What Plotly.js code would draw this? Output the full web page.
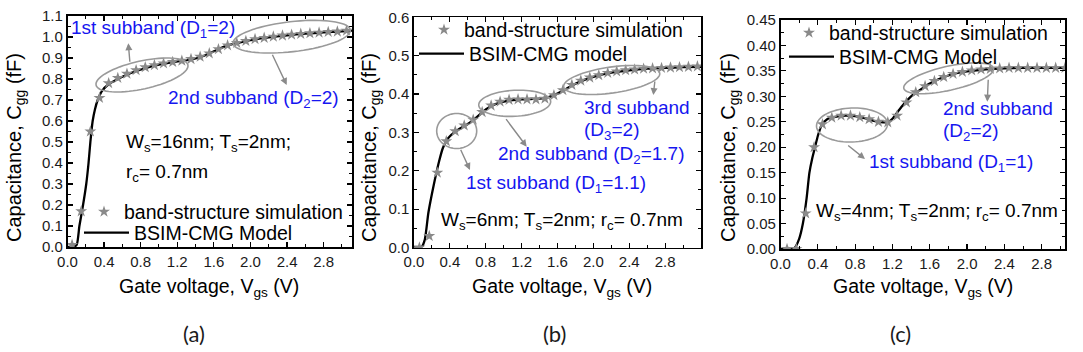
<!DOCTYPE html>
<html>
<head>
<meta charset="utf-8">
<script src="https://cdn.plot.ly/plotly-3.0.1.min.js"></script>
<style>html,body{margin:0;padding:0;background:#fff;}#chart{width:1083px;height:352px;}</style>
</head>
<body>
<div id="chart"></div>
<script>
// ---------- data ----------
const xTickVals = [0.0, 0.4, 0.8, 1.2, 1.6, 2.0, 2.4, 2.8];

// panel (a)  Ws=16nm
const modelA_V = [0, 0.06, 0.10, 0.13, 0.17, 0.205, 0.23, 0.25, 0.275, 0.30, 0.33, 0.38, 0.45, 0.55, 0.70, 0.85, 1.00, 1.15, 1.30, 1.40, 1.50, 1.60, 1.70, 1.80, 1.90, 2.00, 2.20, 2.40, 2.60, 2.80, 3.00, 3.11];
const modelA_C = [0, 0, 0.01, 0.10, 0.20, 0.30, 0.40, 0.50, 0.60, 0.655, 0.70, 0.745, 0.775, 0.800, 0.830, 0.852, 0.868, 0.880, 0.890, 0.898, 0.912, 0.932, 0.952, 0.966, 0.976, 0.985, 0.998, 1.008, 1.016, 1.022, 1.027, 1.030];
const simA_V = [0.05, 0.15, 0.25, 0.35, 0.45, 0.55, 0.65, 0.75, 0.85, 0.95, 1.05, 1.15, 1.25, 1.35, 1.45, 1.55, 1.65, 1.75, 1.85, 1.95, 2.05, 2.15, 2.25, 2.35, 2.45, 2.55, 2.65, 2.75, 2.85, 2.95, 3.05];
const simA_C = [0.01, 0.17, 0.55, 0.71, 0.78, 0.805, 0.825, 0.842, 0.856, 0.866, 0.874, 0.881, 0.887, 0.895, 0.906, 0.922, 0.942, 0.960, 0.972, 0.981, 0.990, 0.996, 1.002, 1.007, 1.011, 1.015, 1.018, 1.021, 1.024, 1.026, 1.030];

// panel (b)  Ws=6nm
const modelB_V = [0, 0.08, 0.12, 0.16, 0.20, 0.24, 0.28, 0.32, 0.36, 0.40, 0.45, 0.50, 0.60, 0.70, 0.80, 0.90, 1.00, 1.10, 1.20, 1.30, 1.40, 1.50, 1.60, 1.70, 1.80, 1.90, 2.00, 2.20, 2.40, 2.60, 2.80, 3.00, 3.20];
const modelB_C = [0, 0, 0.02, 0.09, 0.14, 0.185, 0.225, 0.258, 0.278, 0.290, 0.300, 0.308, 0.322, 0.340, 0.360, 0.373, 0.380, 0.384, 0.386, 0.387, 0.388, 0.392, 0.401, 0.414, 0.427, 0.437, 0.445, 0.456, 0.462, 0.466, 0.468, 0.470, 0.471];
const simB_V = [0.06, 0.17, 0.26, 0.36, 0.46, 0.56, 0.66, 0.76, 0.86, 0.96, 1.06, 1.16, 1.26, 1.36, 1.46, 1.56, 1.66, 1.76, 1.86, 1.96, 2.06, 2.16, 2.26, 2.36, 2.46, 2.56, 2.66, 2.76, 2.86, 2.96, 3.06, 3.16];
const simB_C = [0.0, 0.03, 0.195, 0.277, 0.303, 0.318, 0.333, 0.353, 0.370, 0.380, 0.385, 0.386, 0.386, 0.386, 0.388, 0.397, 0.410, 0.424, 0.435, 0.443, 0.449, 0.455, 0.459, 0.462, 0.464, 0.466, 0.467, 0.468, 0.469, 0.470, 0.471, 0.472];

// panel (c)  Ws=4nm
const modelC_V = [0, 0.10, 0.15, 0.20, 0.24, 0.28, 0.31, 0.34, 0.37, 0.40, 0.44, 0.50, 0.60, 0.70, 0.80, 0.90, 1.00, 1.10, 1.15, 1.20, 1.25, 1.30, 1.40, 1.50, 1.60, 1.70, 1.80, 1.90, 2.00, 2.20, 2.40, 2.60, 2.80, 3.05];
const modelC_C = [0, 0, 0.002, 0.02, 0.05, 0.10, 0.15, 0.178, 0.200, 0.222, 0.243, 0.255, 0.260, 0.262, 0.261, 0.257, 0.252, 0.249, 0.249, 0.256, 0.268, 0.280, 0.300, 0.313, 0.325, 0.334, 0.341, 0.346, 0.349, 0.353, 0.355, 0.356, 0.356, 0.356];
const simC_V = [0.07, 0.17, 0.27, 0.36, 0.45, 0.55, 0.65, 0.75, 0.85, 0.95, 1.05, 1.15, 1.25, 1.35, 1.45, 1.55, 1.65, 1.75, 1.85, 1.95, 2.05, 2.15, 2.25, 2.35, 2.45, 2.55, 2.65, 2.75, 2.85, 2.95, 3.05];
const simC_C = [0.0, 0.0, 0.07, 0.20, 0.245, 0.258, 0.262, 0.262, 0.259, 0.255, 0.250, 0.249, 0.262, 0.288, 0.308, 0.320, 0.330, 0.338, 0.344, 0.348, 0.351, 0.353, 0.354, 0.355, 0.356, 0.356, 0.356, 0.356, 0.356, 0.356, 0.356];

const simName = 'band-structure simulation';
const modelNames = ['BSIM-CMG Model', 'BSIM-CMG model', 'BSIM-CMG Model'];

// ---------- layout helpers ----------
const W = 1083, H = 352;
const X = p => p / W;
const Y = p => 1 - p / H;
const FONT = 'Liberation Sans, Arial, sans-serif';
const BLUE = '#1616f0';
const GREY = '#8a8a8a';

function xAxis(d0, d1, r1, anchor) {
  return {
    domain: [X(d0), X(d1)], range: [0, r1], anchor: anchor,
    tickvals: xTickVals, tickformat: '.1f',
    ticks: 'inside', ticklen: 5, tickwidth: 1.2, tickcolor: '#000',
    minor: {ticks: 'inside', dtick: 0.2, tick0: 0, ticklen: 3, tickwidth: 1, tickcolor: '#000'},
    mirror: 'allticks', showline: true, linecolor: '#000', linewidth: 1.6,
    showgrid: false, zeroline: false, fixedrange: true,
    tickfont: {family: FONT, size: 15, color: '#1a1a1a'}
  };
}
function yAxis(top, bot, r1, dt, mdt, fmt, anchor) {
  return {
    domain: [Y(bot), Y(top)], range: [0, r1], anchor: anchor,
    dtick: dt, tick0: 0, tickformat: fmt,
    ticks: 'inside', ticklen: 5, tickwidth: 1.2, tickcolor: '#000',
    minor: {ticks: 'inside', dtick: mdt, tick0: 0, ticklen: 3, tickwidth: 1, tickcolor: '#000'},
    mirror: 'allticks', showline: true, linecolor: '#000', linewidth: 1.6,
    showgrid: false, zeroline: false, fixedrange: true,
    tickfont: {family: FONT, size: 15, color: '#1a1a1a'}
  };
}

function simTrace(xs, ys, xa, ya, leg) {
  return {x: xs, y: ys, xaxis: xa, yaxis: ya, type: 'scatter', mode: 'markers', name: simName, legend: leg,
    marker: {symbol: 'star', size: 9, color: GREY, line: {width: 0}}};
}
function modelTrace(xs, ys, xa, ya, name, leg) {
  return {x: xs, y: ys, xaxis: xa, yaxis: ya, type: 'scatter', mode: 'lines', name: name, legend: leg,
    line: {color: '#000', width: 2.3, shape: 'spline', smoothing: 0.6}};
}

const traces = [
  modelTrace(modelA_V, modelA_C, 'x', 'y', modelNames[0], 'legend2'),
  simTrace(simA_V, simA_C, 'x', 'y', 'legend'),
  modelTrace(modelB_V, modelB_C, 'x2', 'y2', modelNames[1], 'legend4'),
  simTrace(simB_V, simB_C, 'x2', 'y2', 'legend3'),
  modelTrace(modelC_V, modelC_C, 'x3', 'y3', modelNames[2], 'legend6'),
  simTrace(simC_V, simC_C, 'x3', 'y3', 'legend5')
];

function leg(px, py, iw) {
  return {x: X(px), y: Y(py), xref: 'paper', yref: 'paper', xanchor: 'left', yanchor: 'middle',
    bgcolor: 'rgba(0,0,0,0)', borderwidth: 0, itemwidth: iw,
    font: {family: FONT, size: 19.5, color: '#000'}, tracegroupgap: 0};
}

// decorations: ellipses (pixel centre, semi-axes, tilt)
const ellipses = [
  [142, 75, 47, 14, -12.4], [291.7, 36.7, 59, 15, -6.5],
  [456.7, 131, 20, 17.5, 0], [514.7, 103.3, 36, 13, -3], [611.7, 80, 48.5, 13, -8],
  [852, 125, 35.5, 17, -2], [948.7, 78.3, 46, 12, -12.6]
];
function ellipsePath(e) {
  const [cx, cy, a, b, ang] = e; const t = ang * Math.PI / 180; let s = '';
  for (let i = 0; i <= 72; i++) {
    const u = i / 72 * 2 * Math.PI;
    const px = cx + a * Math.cos(u) * Math.cos(t) - b * Math.sin(u) * Math.sin(t);
    const py = cy + a * Math.cos(u) * Math.sin(t) + b * Math.sin(u) * Math.cos(t);
    s += (i === 0 ? 'M' : 'L') + X(px).toFixed(5) + ',' + Y(py).toFixed(5);
  }
  return s + 'Z';
}
const shapes = ellipses.map(e => ({type: 'path', xref: 'paper', yref: 'paper', path: ellipsePath(e),
  line: {color: '#9a9a9a', width: 1.6}, fillcolor: 'rgba(0,0,0,0)'}));

// arrows: tail -> head (pixels)
const arrows = [
  [130, 63.3, 128.3, 43.3], [271.7, 53.3, 286.7, 85],
  [460, 148.3, 470, 170], [505, 117.7, 526.7, 146.7], [655, 80, 653.3, 95],
  [846.7, 144.3, 865, 159], [988.3, 78.3, 987.3, 101.7]
];
const annotations = arrows.map(a => ({xref: 'paper', yref: 'paper', x: X(a[2]), y: Y(a[3]),
  ax: a[0] - a[2], ay: a[1] - a[3], axref: 'pixel', ayref: 'pixel', text: '', showarrow: true,
  arrowhead: 2, arrowsize: 1, arrowwidth: 1.4, arrowcolor: GREY, standoff: 0, startstandoff: 0}));

function txt(px, py, s, color, size, extra) {
  return Object.assign({xref: 'paper', yref: 'paper', x: X(px), y: Y(py), text: s, showarrow: false,
    xanchor: 'left', yanchor: 'middle', font: {family: FONT, size: size || 19, color: color || '#000'}}, extra || {});
}
annotations.push(
  txt(69, 29, '1st subband (D<sub>1</sub>=2)', BLUE),
  txt(166, 99, '2nd subband (D<sub>2</sub>=2)', BLUE),
  txt(124, 143, 'W<sub>s</sub>=16nm; T<sub>s</sub>=2nm;'),
  txt(124, 173, 'r<sub>c</sub>= 0.7nm'),
  txt(582, 107, '3rd subband', BLUE),
  txt(582, 131, '(D<sub>3</sub>=2)', BLUE),
  txt(496, 155, '2nd subband (D<sub>2</sub>=1.7)', BLUE),
  txt(464, 184, '1st subband (D<sub>1</sub>=1.1)', BLUE),
  txt(439, 221, 'W<sub>s</sub>=6nm; T<sub>s</sub>=2nm; r<sub>c</sub>= 0.7nm'),
  txt(941, 108, '2nd subband', BLUE),
  txt(941, 132, '(D<sub>2</sub>=2)', BLUE),
  txt(867, 163, '1st subband (D<sub>1</sub>=1)', BLUE),
  txt(814, 212, 'W<sub>s</sub>=4nm; T<sub>s</sub>=2nm; r<sub>c</sub>= 0.7nm')
);
// axis titles
const yTitle = 'Capacitance, C<sub>gg</sub> (fF)';
const xTitle = 'Gate voltage, V<sub>gs</sub> (V)';
[[15, 148], [370, 148], [729, 148]].forEach(p => annotations.push(
  txt(p[0], p[1], yTitle, '#000', 20, {xanchor: 'center', textangle: -90})));
[[209, 287], [562, 287], [923, 287]].forEach(p => annotations.push(
  txt(p[0], p[1], xTitle, '#000', 19.5, {xanchor: 'center'})));
[['(a)', 194], ['(b)', 554], ['(c)', 900]].forEach(p => annotations.push(
  txt(p[1], 333, p[0], '#1a1a1a', 22, {xanchor: 'center', font: {family: 'Lato, Open Sans, sans-serif', size: 22, color: '#1a1a1a'}})));

const layout = {
  width: W, height: H, margin: {l: 0, r: 0, t: 0, b: 0}, paper_bgcolor: '#fff', plot_bgcolor: '#fff',
  showlegend: true,
  xaxis: xAxis(67.5, 352, 3.11, 'y'),
  yaxis: yAxis(16, 247, 1.1, 0.1, 0.05, '.1f', 'x'),
  xaxis2: xAxis(414, 701, 3.2, 'y2'),
  yaxis2: yAxis(17.3, 247.5, 0.6, 0.1, 0.05, '.1f', 'x2'),
  xaxis3: xAxis(780.5, 1065, 3.05, 'y3'),
  yaxis3: yAxis(20, 249, 0.45, 0.05, 0.025, '.2f', 'x3'),
  legend: leg(84, 212, 30), legend2: leg(79, 233, 45),
  legend3: leg(424, 30, 30), legend4: leg(414, 54, 45),
  legend5: leg(789, 33, 30), legend6: leg(784, 57, 45),
  shapes: shapes, annotations: annotations
};

Plotly.newPlot('chart', traces, layout, {displayModeBar: false, staticPlot: true});
</script>
</body>
</html>
